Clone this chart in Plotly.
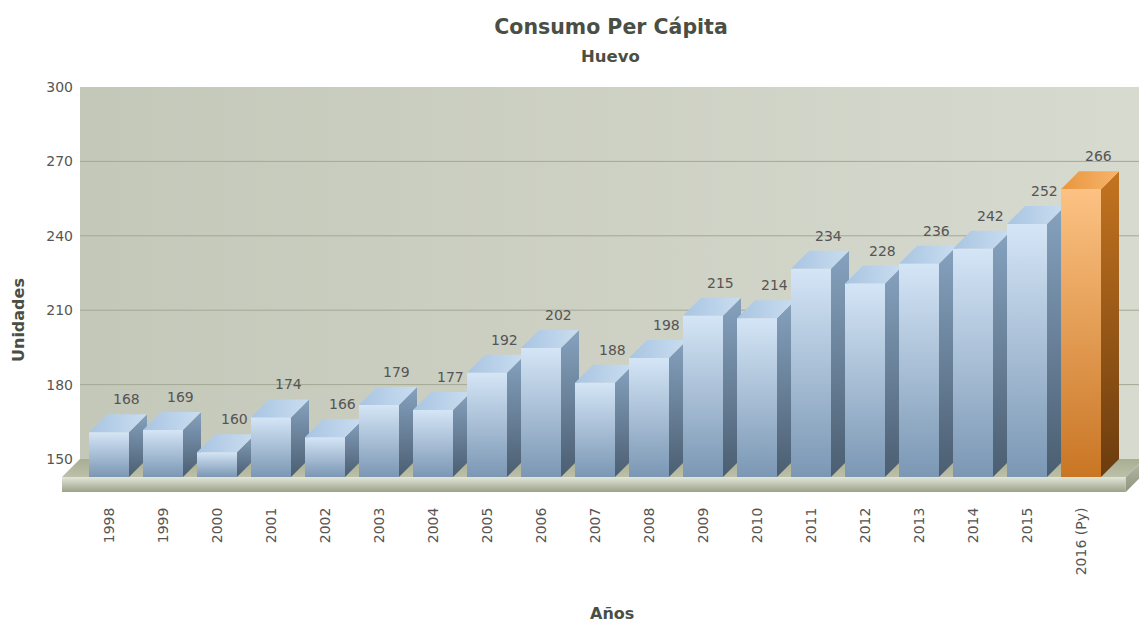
import plotly.graph_objects as go

# ---------------- data ----------------
years = ["1998", "1999", "2000", "2001", "2002", "2003", "2004", "2005", "2006", "2007",
         "2008", "2009", "2010", "2011", "2012", "2013", "2014", "2015", "2016 (Py)"]
consumo = [168, 169, 160, 174, 166, 179, 177, 192, 202, 188,
           198, 215, 214, 234, 228, 236, 242, 252, 266]
y_ticks = [150, 180, 210, 240, 270, 300]

title_text = "Consumo Per Cápita"
subtitle_text = "Huevo"
x_title = "Años"
y_title = "Unidades"

# ---------------- geometry / style (pixel based) ----------------
W, H = 1139, 622
ML, MR, MT, MB = 62, 0, 87, 128
PX_PER_CAT = 54.0
FIRST_CAT_PX = 109.0
PLOT_W = W - ML - MR
PLOT_H = H - MT - MB
Y_MIN_VAL, Y_MAX_VAL = y_ticks[0], y_ticks[-1]
WALL_BOTTOM_PX = 459.0
PX_PER_UNIT = (WALL_BOTTOM_PX - MT) / (Y_MAX_VAL - Y_MIN_VAL)

x_lo = -(FIRST_CAT_PX - ML) / PX_PER_CAT
x_hi = x_lo + PLOT_W / PX_PER_CAT
y_lo = Y_MIN_VAL - (H - MB - WALL_BOTTOM_PX) / PX_PER_UNIT
y_hi = Y_MAX_VAL

DEPTH_X = 18 / PX_PER_CAT       # oblique depth offset (x units)
DEPTH_Y = 18 / PX_PER_UNIT      # oblique depth offset (y units)
HALF_W = 20 / PX_PER_CAT        # half bar width
FLOOR_T = 15 / PX_PER_UNIT      # floor thickness
floor_left = x_lo
floor_right = (len(years) - 1) + 0.83

FONT = "DejaVu Sans"
TXT = "#555555"
TITLE_C = "#4a4f45"

fig = go.Figure()


def poly(xs, ys, c_low, c_high, gtype="vertical"):
    fig.add_trace(go.Scatter(
        x=xs + [xs[0]], y=ys + [ys[0]], fill="toself", mode="none",
        fillgradient=dict(type=gtype, colorscale=[[0, c_low], [1, c_high]]),
        hoverinfo="skip", showlegend=False))


# back wall
wl = floor_left + DEPTH_X
poly([wl, x_hi + 1, x_hi + 1, wl], [Y_MIN_VAL, Y_MIN_VAL, Y_MAX_VAL, Y_MAX_VAL],
     "#c4c8b9", "#d8dbd0", "horizontal")

# grid lines on the wall
for t in y_ticks[1:-1]:
    fig.add_trace(go.Scatter(x=[wl, x_hi + 1], y=[t, t], mode="lines",
                             line=dict(color="#a3a994", width=1),
                             hoverinfo="skip", showlegend=False))

# floor
fy_front = Y_MIN_VAL - DEPTH_Y
poly([floor_left, floor_right, floor_right + DEPTH_X, floor_left + DEPTH_X],
     [fy_front, fy_front, Y_MIN_VAL, Y_MIN_VAL], "#bcc0a8", "#a8ad93")
poly([floor_left, floor_right, floor_right, floor_left],
     [fy_front - FLOOR_T, fy_front - FLOOR_T, fy_front, fy_front], "#9ca189", "#e2e6d8")
poly([floor_right, floor_right + DEPTH_X, floor_right + DEPTH_X, floor_right],
     [fy_front - FLOOR_T, Y_MIN_VAL - FLOOR_T, Y_MIN_VAL, fy_front], "#8e947f", "#b8bdaa")

# 3D bars
for i, (lab, v) in enumerate(zip(years, consumo)):
    proj = "Py" in lab
    if proj:
        front = ("#c97624", "#fcc283")
        side = ("#6b3c0e", "#c47420")
        top = ("#e8963f", "#f7b46a")
    else:
        front = ("#7b97b4", "#d4e5f6")
        side = ("#4b5e71", "#86a2bf")
        top = ("#a9c5e2", "#c9ddf0")
    xl, xr = i - HALF_W, i + HALF_W
    yb, yt = fy_front, v - DEPTH_Y
    # side face
    poly([xr, xr + DEPTH_X, xr + DEPTH_X, xr], [yb, Y_MIN_VAL, v, yt], side[0], side[1])
    # top face
    poly([xl, xr, xr + DEPTH_X, xl + DEPTH_X], [yt, yt, v, v], top[0], top[1], "horizontal")
    # front face
    poly([xl, xr, xr, xl], [yb, yb, yt, yt], front[0], front[1])

# value labels
for i, v in enumerate(consumo):
    fig.add_annotation(x=i + DEPTH_X * 0.95, y=v, text=str(v), showarrow=False,
                       yshift=15, font=dict(family=FONT, size=14, color=TXT))

fig.update_layout(
    width=W, height=H,
    margin=dict(l=ML, r=MR, t=MT, b=MB),
    paper_bgcolor="white", plot_bgcolor="white",
    title=dict(text="<b>" + title_text + "</b>", x=611 / W, xref="container",
               xanchor="center", y=1 - 27 / H, yref="container", yanchor="middle",
               font=dict(family=FONT, size=20.5, color=TITLE_C)),
    xaxis=dict(range=[x_lo, x_hi], tickmode="array", tickvals=list(range(len(years))),
               ticktext=years, tickangle=-90, showgrid=False, zeroline=False,
               showline=False, ticks="outside", ticklen=7, tickcolor="rgba(0,0,0,0)",
               tickfont=dict(family=FONT, size=14, color=TXT), fixedrange=True),
    yaxis=dict(range=[y_lo, y_hi], tickmode="array", tickvals=y_ticks,
               showgrid=False, zeroline=False, showline=False, ticks="",
               anchor="free", position=(wl - x_lo) * PX_PER_CAT / PLOT_W,
               ticklabelstandoff=7,
               tickfont=dict(family=FONT, size=14, color=TXT), fixedrange=True),
    showlegend=False,
)

fig.add_annotation(text="<b>" + subtitle_text + "</b>", xref="paper", yref="paper",
                   x=(610 - ML) / PLOT_W, y=(H - MB - 57) / PLOT_H, showarrow=False,
                   xanchor="center", yanchor="middle",
                   font=dict(family=FONT, size=16.5, color=TITLE_C))
fig.add_annotation(text="<b>" + x_title + "</b>", xref="paper", yref="paper",
                   x=(612 - ML) / PLOT_W, y=(H - MB - 613) / PLOT_H, showarrow=False,
                   xanchor="center", yanchor="middle",
                   font=dict(family=FONT, size=16, color=TITLE_C))
fig.add_annotation(text="<b>" + y_title + "</b>", xref="paper", yref="paper",
                   x=(18 - ML) / PLOT_W, y=(H - MB - 320) / PLOT_H, showarrow=False,
                   xanchor="center", yanchor="middle",
                   textangle=-90, font=dict(family=FONT, size=16, color=TITLE_C))

fig.write_html("out.html")
